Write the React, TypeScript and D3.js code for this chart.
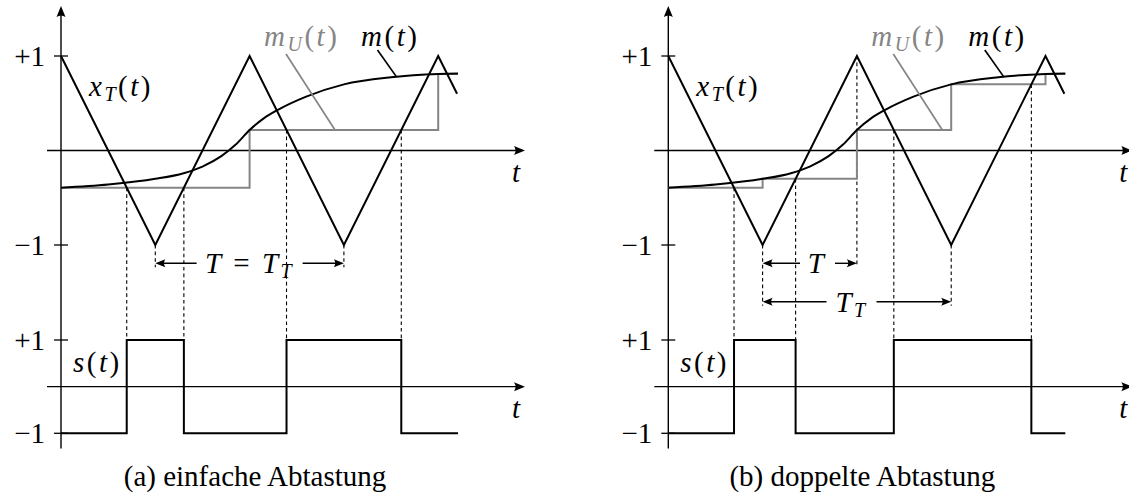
import React from 'react';
import * as d3 from 'd3';

// Triangular carrier x_T(t): vertex times (half-periods) and values
const carrierTimes = [0, 1, 2, 3, 4, 4.2];
const carrierValues = [1, -1, 1, -1, 1, 0.6];

// Message signal m(t)
const messageTimes = [0, 0.5, 1, 1.3, 1.5, 1.7, 1.85, 2, 2.15, 2.3, 2.6, 3, 3.5, 4, 4.21];
const messageValues = [-0.394, -0.36, -0.3, -0.24, -0.17, -0.06, 0.06, 0.217, 0.34, 0.43, 0.57, 0.7, 0.775, 0.81, 0.815];

// Sample-and-hold m_U(t): single sampling (peaks only) and double sampling (peaks and troughs)
const singleSampleTimes = [0, 2, 4];
const singleSampleValues = [-0.394, 0.217, 0.81];
const doubleSampleTimes = [0, 1, 2, 3, 4];
const doubleSampleValues = [-0.394, -0.3, 0.217, 0.7, 0.81];

const tEnd = 4.21;
const tickValues = [1, -1];
const tickLabels = ['+1', '\u22121'];
const captions = ['(a) einfache Abtastung', '(b) doppelte Abtastung'];

const FONT = 'Liberation Serif, DejaVu Serif, serif';
const FS = 29;
const SUB = 20;
const GRAY = '#858585';

const unit = 94.3;
const yU = d3.scaleLinear().domain([-1, 1]).range([245, 56]);
const yL = d3.scaleLinear().domain([-1, 1]).range([433.3, 340]);

type Dim = { from: number; to: number; y: number; center: number; gapL: number; gapR: number; kind: 'eq' | 'T' | 'TT' };

const panels = [
  {
    x0: 61,
    sampleTimes: singleSampleTimes,
    sampleValues: singleSampleValues,
    caption: captions[0],
    dims: [{ from: 1, to: 3, y: 263.3, center: 2.0, gapL: 53, gapR: 53, kind: 'eq' }] as Dim[],
  },
  {
    x0: 668.3,
    sampleTimes: doubleSampleTimes,
    sampleValues: doubleSampleValues,
    caption: captions[1],
    dims: [
      { from: 1, to: 2, y: 263.3, center: 1.577, gapL: 17, gapR: 18, kind: 'T' },
      { from: 1, to: 3, y: 301.7, center: 1.943, gapL: 25, gapR: 25, kind: 'TT' },
    ] as Dim[],
  },
];

function crossings(sampleTimes: number[], sampleValues: number[]) {
  const out: { t: number; v: number }[] = [];
  const last = sampleTimes[sampleTimes.length - 1];
  for (let i = 0; i < carrierTimes.length - 1; i++) {
    const t0 = carrierTimes[i];
    const t1 = carrierTimes[i + 1];
    if (t0 >= last) break;
    const held = sampleValues[d3.bisectRight(sampleTimes, t0) - 1];
    const v0 = carrierValues[i];
    const v1 = carrierValues[i + 1];
    const f = (held - v0) / (v1 - v0);
    if (f > 0 && f < 1) out.push({ t: t0 + f * (t1 - t0), v: held });
  }
  return out;
}

// LaTeX-like arrow tip pointing in direction (dx, dy)
function arrowTip(x: number, y: number, dx: number, dy: number, len = 11, half = 4.5) {
  const px = -dy;
  const py = dx;
  const bx = x - dx * len;
  const by = y - dy * len;
  const cx = x - dx * len * 0.72;
  const cy = y - dy * len * 0.72;
  return `M${x},${y}L${bx + px * half},${by + py * half}Q${cx},${cy} ${bx - px * half},${by - py * half}Z`;
}

const txt = { fontFamily: FONT, fontSize: FS } as React.CSSProperties;
const math = { fontFamily: FONT, fontSize: FS, letterSpacing: '2.5px' } as React.CSSProperties;

function Panel({ p }: { p: (typeof panels)[number] }) {
  const x = d3.scaleLinear().domain([0, 1]).range([p.x0, p.x0 + unit]);
  const upper = d3.line<[number, number]>().x((d) => x(d[0])).y((d) => yU(d[1]));
  const lower = d3.line<[number, number]>().x((d) => x(d[0])).y((d) => yL(d[1]));

  const carrier = carrierTimes.map((t, i) => [t, carrierValues[i]] as [number, number]);
  const message = messageTimes.map((t, i) => [t, messageValues[i]] as [number, number]);
  const held = p.sampleTimes.map((t, i) => [t, p.sampleValues[i]] as [number, number]);
  held.push([tEnd, p.sampleValues[p.sampleValues.length - 1]]);

  const cross = crossings(p.sampleTimes, p.sampleValues);
  let s = -1;
  const sq: [number, number][] = [[0, s]];
  cross.forEach((c) => {
    s = -s;
    sq.push([c.t, s]);
  });
  sq.push([tEnd, s]);

  const axisLeft = p.x0 - 14;
  const axisRight = p.x0 + 464;
  const dash = '3.6,3';

  // guide lines from carrier vertices to dimension arrows
  const guides: { t: number; y: number }[] = [];
  p.dims.forEach((d) => {
    [d.from, d.to].forEach((t) => {
      const g = guides.find((q) => q.t === t);
      if (g) g.y = Math.max(g.y, d.y);
      else guides.push({ t, y: d.y });
    });
  });

  const carrierAt = (t: number) => carrierValues[carrierTimes.indexOf(t)];
  const mAt = (t: number) => {
    const i = d3.bisectRight(messageTimes, t) - 1;
    const f = (t - messageTimes[i]) / (messageTimes[i + 1] - messageTimes[i]);
    return messageValues[i] + f * (messageValues[i + 1] - messageValues[i]);
  };

  return (
    <g>
      {/* axes */}
      <line x1={p.x0} y1={448.5} x2={p.x0} y2={12} stroke="#000" strokeWidth={1.4} />
      <path d={arrowTip(p.x0, 6, 0, -1)} fill="#000" />
      {[yU(0), yL(0)].map((yy, i) => (
        <g key={i}>
          <line x1={axisLeft} y1={yy} x2={axisRight - 5} y2={yy} stroke="#000" strokeWidth={1.4} />
          <path d={arrowTip(axisRight, yy, 1, 0)} fill="#000" />
        </g>
      ))}
      {/* ticks */}
      {[yU, yL].map((sc, k) =>
        tickValues.map((v, i) => (
          <g key={`${k}-${i}`}>
            <line x1={p.x0 - 7} x2={p.x0 + 7} y1={sc(v)} y2={sc(v)} stroke="#000" strokeWidth={1.3} />
            <text x={p.x0 - 16} y={sc(v) + 10} textAnchor="end" style={txt}>
              {tickLabels[i]}
            </text>
          </g>
        ))
      )}
      {/* dashed sampling lines */}
      {cross.map((c, i) => (
        <line key={i} x1={x(c.t)} x2={x(c.t)} y1={yU(c.v)} y2={yL(1)} stroke="#000" strokeWidth={1.1} strokeDasharray={dash} />
      ))}
      {guides.map((g, i) => (
        <line key={i} x1={x(g.t)} x2={x(g.t)} y1={yU(carrierAt(g.t))} y2={g.y + 4} stroke="#000" strokeWidth={1.1} strokeDasharray={dash} />
      ))}
      {/* sampled message */}
      <path d={upper.curve(d3.curveStepAfter)(held) || ''} fill="none" stroke={GRAY} strokeWidth={2} />
      {/* message */}
      <path d={upper.curve(d3.curveMonotoneX)(message) || ''} fill="none" stroke="#000" strokeWidth={2} />
      {/* carrier */}
      <path d={upper.curve(d3.curveLinear)(carrier) || ''} fill="none" stroke="#000" strokeWidth={2} />
      {/* switching signal */}
      <path d={lower.curve(d3.curveStepAfter)(sq) || ''} fill="none" stroke="#000" strokeWidth={2} />

      {/* leaders */}
      <line x1={p.x0 + 225} y1={54} x2={p.x0 + 274} y2={yU(0.217)} stroke={GRAY} strokeWidth={1.7} />
      <line x1={p.x0 + 316.5} y1={50} x2={p.x0 + 335.5} y2={yU(mAt(335.5 / unit))} stroke="#000" strokeWidth={1.7} />

      {/* labels */}
      <text x={p.x0 + 28} y={96} style={math}>
        <tspan fontStyle="italic">x</tspan>
        <tspan fontStyle="italic" fontSize={SUB} dy={5}>T</tspan>
        <tspan dy={-5}>(</tspan>
        <tspan fontStyle="italic">t</tspan>
        <tspan>)</tspan>
      </text>
      <text x={p.x0 + 203} y={46} style={math} fill={GRAY}>
        <tspan fontStyle="italic">m</tspan>
        <tspan fontStyle="italic" fontSize={SUB} dy={5}>U</tspan>
        <tspan dy={-5}>(</tspan>
        <tspan fontStyle="italic">t</tspan>
        <tspan>)</tspan>
      </text>
      <text x={p.x0 + 300} y={46} style={math}>
        <tspan fontStyle="italic">m</tspan>
        <tspan>(</tspan>
        <tspan fontStyle="italic">t</tspan>
        <tspan>)</tspan>
      </text>
      <text x={p.x0 + 12} y={372} style={math}>
        <tspan fontStyle="italic">s</tspan>
        <tspan>(</tspan>
        <tspan fontStyle="italic">t</tspan>
        <tspan>)</tspan>
      </text>
      <text x={p.x0 + 451} y={182} style={txt} fontStyle="italic">t</text>
      <text x={p.x0 + 451} y={418} style={txt} fontStyle="italic">t</text>

      {/* dimension arrows */}
      {p.dims.map((d, i) => {
        const cx = x(d.center);
        const xa = x(d.from);
        const xb = x(d.to);
        return (
          <g key={i}>
            <line x1={xa + 6} x2={cx - d.gapL} y1={d.y} y2={d.y} stroke="#000" strokeWidth={1.4} />
            <line x1={cx + d.gapR} x2={xb - 6} y1={d.y} y2={d.y} stroke="#000" strokeWidth={1.4} />
            <path d={arrowTip(xa, d.y, -1, 0, 10, 4)} fill="#000" />
            <path d={arrowTip(xb, d.y, 1, 0, 10, 4)} fill="#000" />
            <text x={cx} y={d.y + 10} textAnchor="middle" style={math}>
              {d.kind === 'eq' && (
                <>
                  <tspan fontStyle="italic">T</tspan>
                  <tspan>{' = '}</tspan>
                  <tspan fontStyle="italic">T</tspan>
                  <tspan fontStyle="italic" fontSize={SUB} dy={5}>T</tspan>
                </>
              )}
              {d.kind === 'T' && <tspan fontStyle="italic">T</tspan>}
              {d.kind === 'TT' && (
                <>
                  <tspan fontStyle="italic">T</tspan>
                  <tspan fontStyle="italic" fontSize={SUB} dy={5}>T</tspan>
                </>
              )}
            </text>
          </g>
        );
      })}

      <text x={p.x0 + 194} y={486} textAnchor="middle" style={txt}>
        {p.caption}
      </text>
    </g>
  );
}

export default function App() {
  return (
    <svg width={1129} height={500} style={{ position: 'absolute', left: 0, top: 0, background: '#fff' }}>
      <rect width={1129} height={500} fill="#fff" />
      {panels.map((p, i) => (
        <Panel key={i} p={p} />
      ))}
    </svg>
  );
}
